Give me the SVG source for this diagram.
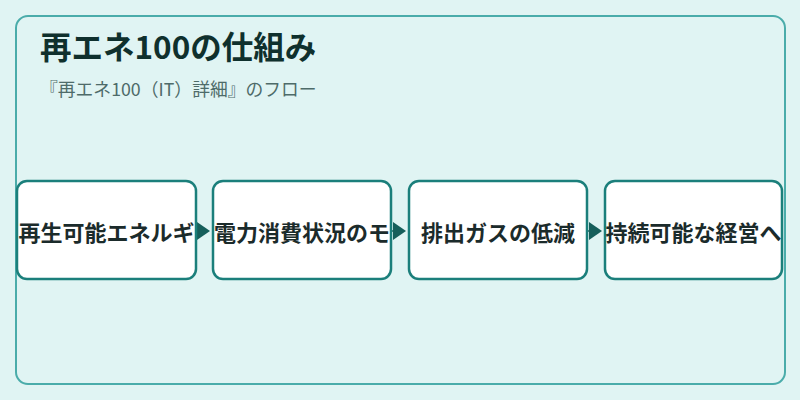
<svg xmlns="http://www.w3.org/2000/svg" width="800" height="400" viewBox="0 0 800 400">
<defs>
<style>
.node rect{fill:#ffffff;stroke:#1b7f7b;stroke-width:2.5}
.node text{font-family:"Noto Sans CJK JP","Noto Sans",sans-serif;font-size:22px;font-weight:600;fill:#1b2b2b;text-anchor:middle;dominant-baseline:central}
.conn line{stroke:#165f5b;stroke-width:1.5}
.conn path{fill:#165f5b}
</style>
</defs>
<rect x="0" y="0" width="800" height="400" fill="#e0f4f3"/>
<rect x="16" y="16" width="769" height="368" rx="12" fill="#e0f4f3" stroke="#4aacaa" stroke-width="2"/>
<text x="40" y="59" font-family="'Noto Sans CJK JP','Noto Sans',sans-serif" font-size="31.5" font-weight="bold" fill="#0f302d">再エネ100の仕組み</text>
<text x="40" y="96" font-family="'Noto Sans CJK JP','Noto Sans',sans-serif" font-size="17.8" fill="#4e6b69">『再エネ100（IT）詳細』のフロー</text>
<g class="conn">
<line x1="196" y1="231" x2="199" y2="231"/><path d="M197,222 L210,231 L197,240 Z"/>
<line x1="392" y1="231" x2="395" y2="231"/><path d="M393,222 L406,231 L393,240 Z"/>
<line x1="588" y1="231" x2="591" y2="231"/><path d="M589,222 L602,231 L589,240 Z"/>
</g>
<g id="node1" class="node"><rect x="17" y="181" width="179" height="98" rx="10"/><text x="106.5" y="231">再生可能エネルギ</text></g>
<g id="node2" class="node"><rect x="213" y="181" width="178" height="98" rx="10"/><text x="302" y="231">電力消費状況のモ</text></g>
<g id="node3" class="node"><rect x="409" y="181" width="178" height="98" rx="10"/><text x="498" y="231">排出ガスの低減</text></g>
<g id="node4" class="node"><rect x="605" y="181" width="177" height="98" rx="10"/><text x="693.5" y="231">持続可能な経営へ</text></g>
</svg>
